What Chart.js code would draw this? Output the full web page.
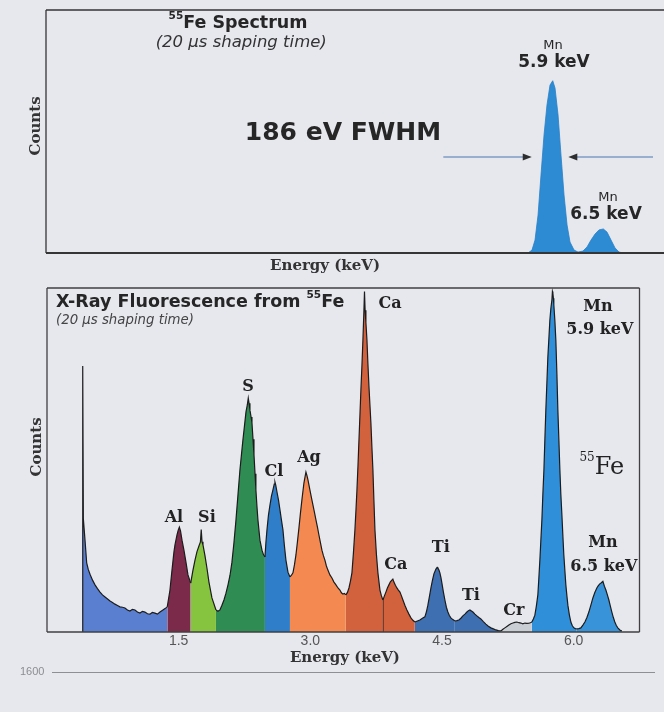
<!DOCTYPE html>
<html>
<head>
<meta charset="utf-8">
<title>55Fe spectrum and X-ray fluorescence from 55Fe</title>
<script src="https://cdn.jsdelivr.net/npm/chart.js@4.4.1/dist/chart.umd.min.js"></script>
<style>
  html, body { margin: 0; padding: 0; }
  body {
    width: 664px; height: 712px; overflow: hidden; position: relative;
    background: #e7e8ee;
    font-family: "Liberation Sans", Arial, sans-serif;
  }
  .panel { position: absolute; left: 0; width: 664px; }
  #topPanel { top: 0; height: 280px; }
  #bottomPanel { top: 270px; height: 442px; }
  .folio { position: absolute; left: 20px; top: 665px; font-size: 11px; color: #8b8d92; }
  .rule { position: absolute; left: 52px; top: 672px; width: 603px; border-top: 1px solid #8d8f94; }
</style>
</head>
<body>
<div class="panel" id="topPanel"><canvas id="fe55"></canvas></div>
<div class="panel" id="bottomPanel"><canvas id="xrf"></canvas></div>
<div class="folio">1600</div>
<div class="rule"></div>

<script>
// ---- 55Fe source spectrum: [energy keV, counts] ----
const fe55Spectrum = [
  [5.607, 0], [5.654, 12], [5.690, 53], [5.726, 156], [5.761, 321], [5.797, 486],
  [5.832, 609], [5.868, 691], [5.900, 709], [5.927, 679], [5.963, 568], [5.998, 403],
  [6.034, 239], [6.070, 115], [6.105, 45], [6.153, 12], [6.200, 4], [6.259, 8],
  [6.307, 25], [6.354, 53], [6.402, 78], [6.449, 95], [6.500, 99], [6.544, 86],
  [6.592, 53], [6.639, 21], [6.686, 4], [6.734, 0]
];

// ---- X-ray fluorescence spectrum, one array per shaded line region ----
const lowEnergyTail = [
  [0.407, 0], [0.407, 773], [0.414, 330], [0.433, 267], [0.452, 201], [0.47, 182],
  [0.49, 168], [0.52, 150], [0.547, 137], [0.575, 126], [0.604, 116], [0.632, 108],
  [0.661, 102], [0.69, 96], [0.718, 90], [0.746, 86], [0.774, 81], [0.803, 77],
  [0.831, 73], [0.86, 72], [0.888, 70], [0.916, 64], [0.945, 61], [0.973, 66],
  [1.002, 64], [1.03, 58], [1.059, 55], [1.087, 60], [1.116, 58], [1.144, 53],
  [1.173, 52], [1.2, 57], [1.23, 55], [1.258, 52], [1.287, 58], [1.321, 64],
  [1.345, 68], [1.37, 73]
];
const aluminium = [
  [1.37, 73], [1.401, 122], [1.424, 180], [1.446, 232], [1.458, 253], [1.481, 282],
  [1.495, 296], [1.508, 305], [1.521, 294], [1.538, 267], [1.56, 238], [1.583, 203],
  [1.606, 166], [1.637, 142]
];
const silicon = [
  [1.637, 142], [1.663, 180], [1.686, 209], [1.708, 233], [1.731, 250], [1.748, 262],
  [1.757, 298], [1.766, 262], [1.777, 253], [1.8, 221], [1.822, 186], [1.845, 145],
  [1.879, 99], [1.925, 64]
];
const sulfur = [
  [1.925, 64], [1.948, 60], [1.97, 64], [1.993, 78], [2.016, 93], [2.039, 113],
  [2.062, 137], [2.085, 165], [2.107, 203], [2.13, 260], [2.153, 326], [2.176, 400],
  [2.198, 471], [2.215, 515], [2.232, 558], [2.25, 600], [2.267, 640], [2.282, 660],
  [2.293, 680], [2.302, 665], [2.312, 645], [2.325, 625], [2.335, 608], [2.347, 560],
  [2.358, 515], [2.37, 460], [2.38, 413], [2.392, 365], [2.403, 326], [2.426, 267],
  [2.449, 238], [2.466, 225], [2.483, 218]
];
const chlorine = [
  [2.483, 218], [2.494, 260], [2.506, 297], [2.523, 340], [2.54, 369], [2.557, 395],
  [2.574, 413], [2.589, 430], [2.597, 436], [2.606, 427], [2.62, 407], [2.637, 384],
  [2.654, 355], [2.671, 325], [2.688, 297], [2.705, 250], [2.722, 209], [2.745, 174],
  [2.768, 160]
];
const silver = [
  [2.768, 160], [2.785, 165], [2.802, 172], [2.819, 195], [2.836, 224], [2.853, 262],
  [2.87, 302], [2.887, 345], [2.904, 384], [2.916, 410], [2.927, 433], [2.939, 450],
  [2.95, 465], [2.961, 455], [2.973, 442], [2.984, 428], [2.995, 413], [3.013, 390],
  [3.03, 369], [3.047, 348], [3.064, 326], [3.081, 305], [3.098, 282], [3.115, 260],
  [3.132, 238], [3.149, 222], [3.166, 209], [3.183, 192], [3.2, 180], [3.223, 166],
  [3.246, 157], [3.269, 145], [3.292, 137], [3.315, 128], [3.337, 122], [3.354, 114],
  [3.371, 110], [3.388, 112], [3.405, 108]
];
const calciumKa = [
  [3.405, 108], [3.423, 115], [3.44, 128], [3.457, 148], [3.474, 172], [3.491, 230],
  [3.508, 297], [3.52, 355], [3.531, 413], [3.543, 485], [3.554, 558], [3.565, 630],
  [3.576, 703], [3.588, 775], [3.599, 849], [3.61, 930], [3.617, 990], [3.624, 935],
  [3.633, 900], [3.645, 849], [3.656, 780], [3.667, 718], [3.679, 660], [3.69, 608],
  [3.701, 540], [3.713, 471], [3.724, 385], [3.736, 297], [3.753, 225], [3.77, 172],
  [3.793, 122], [3.81, 105], [3.827, 93]
];
const calciumKb = [
  [3.827, 0], [3.827, 93], [3.844, 105], [3.861, 116], [3.878, 128], [3.895, 137],
  [3.912, 146], [3.929, 151], [3.94, 154], [3.952, 145], [3.969, 136], [3.986, 128],
  [4.003, 122], [4.021, 116], [4.038, 105], [4.055, 93], [4.077, 78], [4.1, 64],
  [4.123, 52], [4.146, 41], [4.168, 34], [4.191, 29]
];
const titaniumKa = [
  [4.191, 29], [4.22, 32], [4.248, 35], [4.277, 40], [4.305, 44], [4.322, 58],
  [4.339, 78], [4.356, 102], [4.374, 128], [4.391, 150], [4.408, 169], [4.431, 183],
  [4.445, 188], [4.453, 186], [4.465, 180], [4.476, 172], [4.488, 158], [4.499, 142],
  [4.516, 116], [4.533, 93], [4.55, 72], [4.567, 58], [4.584, 48], [4.601, 41],
  [4.624, 36], [4.647, 32]
];
const titaniumKb = [
  [4.647, 32], [4.67, 33], [4.692, 35], [4.715, 40], [4.738, 47], [4.761, 52],
  [4.784, 58], [4.801, 62], [4.818, 64], [4.835, 61], [4.852, 58], [4.875, 52],
  [4.897, 47], [4.92, 42], [4.943, 38], [4.971, 30], [5.0, 23], [5.028, 17],
  [5.057, 12], [5.085, 9], [5.114, 6], [5.142, 4], [5.171, 3]
];
const chromium = [
  [5.171, 3], [5.194, 8], [5.216, 12], [5.239, 16], [5.262, 20], [5.285, 24],
  [5.308, 26], [5.33, 28], [5.353, 29], [5.376, 27], [5.399, 26], [5.421, 24],
  [5.444, 26], [5.467, 25], [5.49, 26], [5.507, 27], [5.524, 29]
];
const manganeseKa = [
  [5.524, 29], [5.541, 38], [5.558, 49], [5.575, 75], [5.592, 108], [5.603, 155],
  [5.615, 209], [5.626, 265], [5.638, 326], [5.649, 400], [5.661, 471], [5.672, 560],
  [5.683, 645], [5.695, 725], [5.706, 799], [5.718, 855], [5.729, 907], [5.74, 940],
  [5.752, 965], [5.758, 990], [5.763, 985], [5.769, 970], [5.774, 951], [5.786, 905],
  [5.797, 849], [5.809, 750], [5.82, 645], [5.832, 555], [5.843, 471], [5.854, 400],
  [5.866, 340], [5.877, 280], [5.888, 224], [5.9, 178], [5.911, 137], [5.923, 105],
  [5.934, 78], [5.951, 50], [5.968, 29], [5.985, 18], [6.002, 12], [6.019, 10],
  [6.036, 9]
];
const manganeseKb = [
  [6.036, 9], [6.059, 10], [6.082, 12], [6.105, 20], [6.128, 29], [6.151, 42],
  [6.173, 58], [6.196, 78], [6.219, 99], [6.241, 115], [6.264, 128], [6.281, 135],
  [6.298, 140], [6.315, 143], [6.333, 147], [6.35, 133], [6.367, 122], [6.384, 108],
  [6.401, 93], [6.418, 75], [6.435, 58], [6.452, 42], [6.469, 29], [6.486, 19],
  [6.503, 12], [6.526, 6], [6.549, 3]
];

const energyTicks = [1.5, 3.0, 4.5, 6.0];

const regionNames = ['Low-energy tail', 'Al', 'Si', 'S', 'Cl', 'Ag', 'Ca Kα', 'Ca Kβ',
                     'Ti Kα', 'Ti Kβ', 'Cr', 'Mn Kα', 'Mn Kβ'];
const regionData = [lowEnergyTail, aluminium, silicon, sulfur, chlorine, silver, calciumKa,
                    calciumKb, titaniumKa, titaniumKb, chromium, manganeseKa, manganeseKb];
const regionColors = ['#5a7fd0', '#7b2a4a', '#86c440', '#2f8c52', '#2f7ec9', '#f48a52', '#d2623e',
                      '#d2623e', '#3e6fb0', '#3e6fb0', '#c9ced4', '#2f8fd9', '#3893d8'];

// ---- drawing helpers ----
const SANS = '"DejaVu Sans", "Liberation Sans", sans-serif';
const SERIF = '"DejaVu Serif", "Liberation Serif", serif';
const toPoints = pairs => pairs.map(([x, y]) => ({ x, y }));

// Draws a label made of runs; runs flagged `sup` are set smaller and raised.
function drawRuns(ctx, item, px, py) {
  const size = item.size;
  const style = item.style || 'normal';
  const weight = item.weight || 'normal';
  const mainFont = `${style} ${weight} ${size}px ${item.family}`;
  const supFont = `${style} ${weight} ${item.supSize || Math.round(size * 0.6)}px ${item.family}`;
  const runs = typeof item.text === 'string' ? [{ t: item.text }] : item.text;
  let total = 0;
  const widths = runs.map(r => {
    ctx.font = r.sup ? supFont : mainFont;
    const w = ctx.measureText(r.t).width;
    total += w;
    return w;
  });
  ctx.save();
  ctx.translate(px, py);
  if (item.rotate) ctx.rotate(item.rotate);
  ctx.fillStyle = item.color || '#262626';
  ctx.textBaseline = 'middle';
  ctx.textAlign = 'left';
  let x = item.align === 'left' ? 0 : -total / 2;
  runs.forEach((r, i) => {
    ctx.font = r.sup ? supFont : mainFont;
    ctx.fillText(r.t, x, r.sup ? -size * 0.4 : 0);
    x += widths[i];
  });
  ctx.restore();
}

function drawArrow(ctx, x0, y, x1, shaft, head) {
  const dir = Math.sign(x1 - x0);
  ctx.strokeStyle = shaft;
  ctx.lineWidth = 1.4;
  ctx.beginPath();
  ctx.moveTo(x0, y);
  ctx.lineTo(x1 - dir * 7, y);
  ctx.stroke();
  ctx.fillStyle = head;
  ctx.beginPath();
  ctx.moveTo(x1, y);
  ctx.lineTo(x1 - dir * 9, y - 3.5);
  ctx.lineTo(x1 - dir * 9, y + 3.5);
  ctx.closePath();
  ctx.fill();
}

// Box around the plot area; each side can have its own width (0 = not drawn).
const framePlugin = {
  id: 'frame',
  afterDatasetsDraw(chart, args, opts) {
    const { ctx, chartArea: a } = chart;
    const sides = {
      top: [[a.left, a.top], [a.right, a.top]],
      right: [[a.right, a.top], [a.right, a.bottom]],
      bottom: [[a.left, a.bottom], [a.right, a.bottom]],
      left: [[a.left, a.top], [a.left, a.bottom]]
    };
    ctx.save();
    ctx.strokeStyle = opts.color;
    for (const [side, w] of Object.entries(opts.widths)) {
      if (!w) continue;
      const [[x0, y0], [x1, y1]] = sides[side];
      ctx.lineWidth = w;
      ctx.beginPath();
      ctx.moveTo(x0, y0);
      ctx.lineTo(x1, y1);
      ctx.stroke();
    }
    ctx.restore();
  }
};

// Peak names, panel titles and axis titles, anchored in data coordinates.
const annotatePlugin = {
  id: 'annotate',
  afterDraw(chart, args, opts) {
    const { ctx, scales: { x, y } } = chart;
    ctx.save();
    for (const ar of opts.arrows || []) {
      drawArrow(ctx, x.getPixelForValue(ar.from), y.getPixelForValue(ar.level),
                x.getPixelForValue(ar.to), ar.shaft, ar.head);
    }
    for (const item of opts.labels || []) {
      drawRuns(ctx, item, x.getPixelForValue(item.at[0]), y.getPixelForValue(item.at[1]));
    }
    ctx.restore();
  }
};

const hiddenAxis = (min, max, fitSize, horizontal) => ({
  type: 'linear', min, max,
  grid: { display: false, drawTicks: false }, border: { display: false },
  ticks: { display: false },
  afterFit: s => { if (horizontal) s.height = fitSize; else s.width = fitSize; }
});

// ---- top panel: 55Fe spectrum ----
new Chart(document.getElementById('fe55'), {
  type: 'line',
  data: {
    datasets: [{
      label: '55Fe',
      data: toPoints(fe55Spectrum),
      fill: 'origin',
      backgroundColor: '#2d8bd3',
      borderColor: '#2a7fc4',
      borderWidth: 0.8,
      pointRadius: 0,
      tension: 0
    }]
  },
  options: {
    responsive: true, maintainAspectRatio: false, animation: false, devicePixelRatio: 1,
    layout: { padding: { top: 10, right: 0, bottom: 0, left: 0 } },
    scales: {
      x: hiddenAxis(-0.111, 7.22, 27, true),
      y: hiddenAxis(0, 1000, 46, false)
    },
    plugins: {
      legend: { display: false },
      tooltip: { enabled: false },
      frame: { color: '#353535', widths: { top: 1.3, left: 1.3, bottom: 2, right: 0 } },
      annotate: {
        arrows: [
          { from: 4.602, to: 5.651, level: 395, shaft: '#7f9cc4', head: '#2e2e2e' },
          { from: 7.09, to: 6.085, level: 395, shaft: '#7f9cc4', head: '#2e2e2e' }
        ],
        labels: [
          { text: [{ t: '55', sup: true }, { t: 'Fe Spectrum' }], at: [2.167, 946], size: 17.5, weight: 'bold', family: SANS, supSize: 10.5 },
          { text: '(20 µs shaping time)', at: [2.205, 864], size: 16.5, style: 'oblique', family: SANS, color: '#333' },
          { text: 'Counts', at: [-0.229, 523], size: 15, weight: 'bold', family: SERIF, rotate: -Math.PI / 2, color: '#333' },
          { text: 'Energy (keV)', at: [3.199, -53.5], size: 15, weight: 'bold', family: SERIF, color: '#333' },
          { text: '186 eV FWHM', at: [3.412, 490], size: 25, weight: 'bold', family: SANS },
          { text: 'Mn', at: [5.904, 852], size: 13, family: SANS },
          { text: '5.9 keV', at: [5.915, 782], size: 17, weight: 'bold', family: SANS },
          { text: 'Mn', at: [6.556, 226], size: 13, family: SANS },
          { text: '6.5 keV', at: [6.532, 160], size: 17, weight: 'bold', family: SANS }
        ]
      }
    }
  },
  plugins: [framePlugin, annotatePlugin]
});

// ---- bottom panel: X-ray fluorescence excited by 55Fe ----
const serifLabel = (text, at) => ({ text, at, size: 16, weight: 'bold', family: SERIF, color: '#222' });

new Chart(document.getElementById('xrf'), {
  type: 'line',
  data: {
    datasets: regionData.map((pairs, i) => ({
      label: regionNames[i],
      data: toPoints(pairs),
      fill: 'origin',
      backgroundColor: regionColors[i],
      borderColor: '#1c1c1c',
      borderWidth: 1.2,
      pointRadius: 0,
      tension: 0
    }))
  },
  options: {
    responsive: true, maintainAspectRatio: false, animation: false, devicePixelRatio: 1,
    layout: { padding: { top: 18, right: 24.5, bottom: 0, left: 0 } },
    scales: {
      x: {
        type: 'linear', min: 0, max: 6.75,
        grid: { display: false, drawTicks: false }, border: { display: false },
        afterBuildTicks: s => { s.ticks = energyTicks.map(v => ({ value: v })); },
        ticks: {
          autoSkip: false, maxRotation: 0, padding: 1,
          color: '#555',
          font: { family: '"Liberation Sans", Arial, sans-serif', size: 14 },
          callback: v => Number(v).toFixed(1)
        },
        afterFit: s => { s.height = 80; }
      },
      y: hiddenAxis(0, 1000, 47, false)
    },
    plugins: {
      legend: { display: false },
      tooltip: { enabled: false },
      frame: { color: '#404040', widths: { top: 1.3, left: 1.3, bottom: 1.6, right: 1.3 } },
      annotate: {
        labels: [
          { text: [{ t: 'X-Ray Fluorescence from ' }, { t: '55', sup: true }, { t: 'Fe' }], at: [0.1025, 959], align: 'left', size: 17.5, weight: 'bold', family: SANS, supSize: 10.5 },
          { text: '(20 µs shaping time)', at: [0.1025, 904], align: 'left', size: 13.3, style: 'oblique', family: SANS, color: '#444' },
          { text: 'Counts', at: [-0.114, 538], size: 15, weight: 'bold', family: SERIF, rotate: -Math.PI / 2, color: '#333' },
          { text: 'Energy (keV)', at: [3.394, -75], size: 15, weight: 'bold', family: SERIF, color: '#333' },
          serifLabel('Al', [1.446, 333]),
          serifLabel('Si', [1.822, 333]),
          serifLabel('S', [2.289, 712]),
          serifLabel('Cl', [2.585, 465]),
          serifLabel('Ag', [2.984, 506]),
          serifLabel('Ca', [3.907, 953]),
          serifLabel('Ca', [3.975, 195]),
          serifLabel('Ti', [4.487, 244]),
          serifLabel('Ti', [4.829, 105]),
          serifLabel('Cr', [5.319, 61]),
          serifLabel('Mn', [6.276, 946]),
          serifLabel('5.9 keV', [6.298, 878]),
          serifLabel('Mn', [6.333, 259]),
          serifLabel('6.5 keV', [6.344, 189]),
          { text: [{ t: '55', sup: true }, { t: 'Fe' }], at: [6.321, 477], size: 24, family: SERIF, supSize: 12, color: '#222' }
        ]
      }
    }
  },
  plugins: [framePlugin, annotatePlugin]
});
</script>
</body>
</html>
